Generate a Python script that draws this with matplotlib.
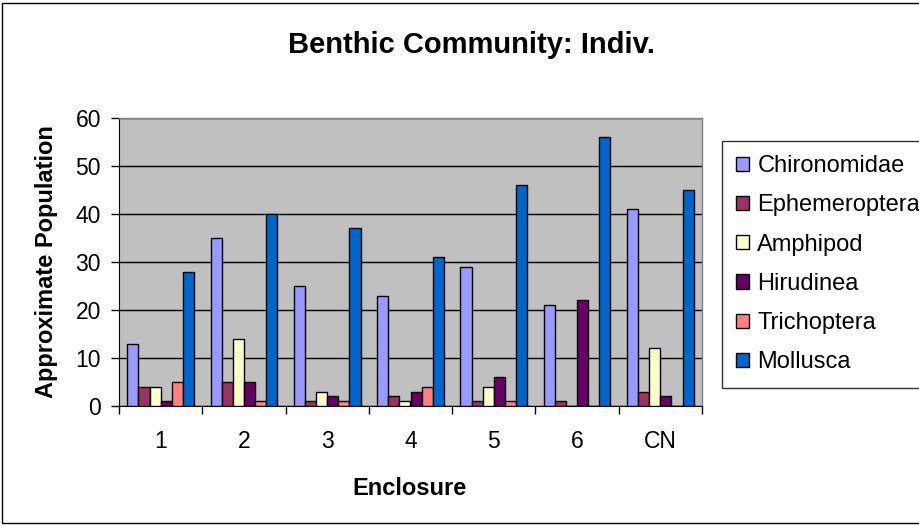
import matplotlib
matplotlib.use("Agg")
import matplotlib.pyplot as plt
import numpy as np
from matplotlib.patches import Rectangle

categories = ["1", "2", "3", "4", "5", "6", "CN"]
series_names = ["Chironomidae", "Ephemeroptera", "Amphipod", "Hirudinea", "Trichoptera", "Mollusca"]
chironomidae = [13, 35, 25, 23, 29, 21, 41]
ephemeroptera = [4, 5, 1, 2, 1, 1, 3]
amphipod = [4, 14, 3, 1, 4, 0, 12]
hirudinea = [1, 5, 2, 3, 6, 22, 2]
trichoptera = [5, 1, 1, 4, 1, 0, 0]
mollusca = [28, 40, 37, 31, 46, 56, 45]
colors = ["#9999FF", "#993366", "#FFFFCC", "#660066", "#FF8080", "#0066CC"]
yticks = [0, 10, 20, 30, 40, 50, 60]

series = [chironomidae, ephemeroptera, amphipod, hirudinea, trichoptera, mollusca]

plt.rcParams['font.family'] = ['Liberation Sans', 'DejaVu Sans']
W, H = 919, 526
fig = plt.figure(figsize=(W / 100, H / 100), dpi=100)

def fx(px):
    return px / W

def fy(py):
    return 1 - py / H

# outer chart border (right side runs off the image)
fig.patches.append(Rectangle((fx(2), fy(523)), (W + 20) / W, (523 - 3) / H, transform=fig.transFigure,
                             fill=False, edgecolor="black", linewidth=1.0, clip_on=False))

left, right, top, bottom = 119, 702, 118, 406
ax = fig.add_axes([fx(left), fy(bottom), (right - left) / W, (bottom - top) / H])
ax.set_facecolor("#C0C0C0")

n = len(series)
x = np.arange(len(categories))
bw = 1 / 7.5
for i, (vals, c, name) in enumerate(zip(series, colors, series_names)):
    offs = (i - (n - 1) / 2) * bw
    ax.bar(x + offs, vals, width=bw, color=c, edgecolor="black", linewidth=1.0,
           label=name, zorder=3)

ax.set_xlim(-0.5, len(categories) - 0.5)
ax.set_ylim(0, 60)
ax.set_yticks(yticks)
ax.set_yticklabels([str(t) for t in yticks], fontsize=16.5)
ax.yaxis.grid(True, color="black", linewidth=1.0, zorder=1)
ax.set_axisbelow(True)

ax.set_xticks(x)
ax.set_xticklabels(categories, fontsize=16.5)
ax.set_xticks(np.arange(len(categories) + 1) - 0.5, minor=True)
ax.tick_params(axis="x", which="major", length=0, pad=17)
ax.tick_params(axis="x", which="minor", length=6, width=1.0, direction="out", color="black")
ax.tick_params(axis="y", length=6, width=1.0, direction="out", pad=7)

for s in ["top", "right"]:
    ax.spines[s].set_color("#808080")
    ax.spines[s].set_linewidth(1.0)
ax.spines["left"].set_color("black")
ax.spines["bottom"].set_color("black")

fig.text(fx(410), fy(495), "Enclosure", ha="center", va="baseline",
         fontsize=17, fontweight="bold")
fig.text(fx(47), fy(262), "Approximate Population", ha="center", va="center",
         rotation=90, fontsize=17, fontweight="bold")
fig.text(fx(471), fy(53), "Benthic Community: Indiv.", ha="center", va="baseline",
         fontsize=21, fontweight="bold")

leg = ax.legend(loc="upper left", bbox_to_anchor=(fx(722), fy(141)), bbox_transform=fig.transFigure,
                fontsize=17, frameon=True, fancybox=False, edgecolor="black",
                handlelength=0.55, handleheight=0.55, handletextpad=0.35, labelspacing=0.73,
                borderpad=0.6, borderaxespad=0)
leg.get_frame().set_linewidth(1.0)
leg.set_clip_on(False)

fig.savefig("out.png", dpi=100)
